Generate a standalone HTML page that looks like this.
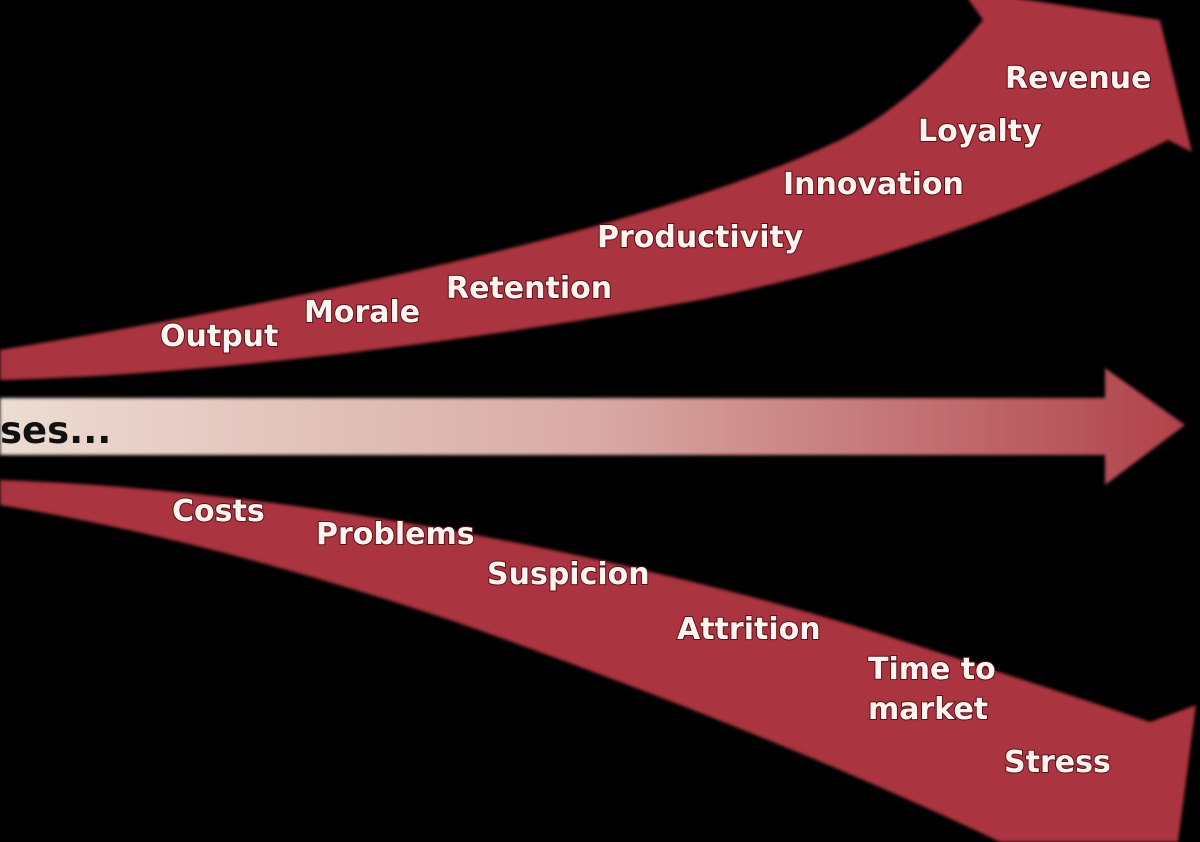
<!DOCTYPE html>
<html><head><meta charset="utf-8"><style>
html,body{margin:0;padding:0;background:#000;}
svg{display:block}
.t{font-family:"DejaVu Sans","Liberation Sans",sans-serif;font-weight:bold;font-size:30px;fill:#fff4f0;stroke:#5a1018;stroke-width:2;paint-order:stroke;}
</style></head><body>
<svg width="1200" height="842" viewBox="0 0 1200 842" xmlns="http://www.w3.org/2000/svg">
<defs>
<linearGradient id="g" x1="0" x2="1" y1="0" y2="0">
<stop offset="0" stop-color="#ecdcd2"/>
<stop offset="0.5" stop-color="#d9aaa6"/>
<stop offset="1" stop-color="#b0424a"/>
</linearGradient>
<filter id="b"><feGaussianBlur stdDeviation="1.5"/></filter>
</defs>
<rect width="1200" height="842" fill="#000"/>
<g filter="url(#b)">
<path d="M0,350 C300,300 650,230 840,140 C900,110 950,60 983,20 L962,-10 L1160,20 L1192,152 L1168,140 C1050,200 900,260 700,300 C450,345 200,375 0,380 Z" fill="#aa3440"/>
<path d="M0,398 L1105,398 L1105,368 L1185,425 L1105,485 L1105,455 L0,455 Z" fill="url(#g)"/>
<path d="M0,480 C300,490 650,560 900,640 C1000,672 1100,705 1150,722 L1196,705 L1178,842 L1000,842 C850,770 650,690 450,620 C300,570 150,530 0,505 Z" fill="#aa3440"/>
</g>
<text x="0" y="443" font-family="DejaVu Sans,Liberation Sans,sans-serif" font-weight="bold" font-size="37" fill="#111">ses...</text>
<text class="t" x="1005" y="88">Revenue</text>
<text class="t" x="918" y="141">Loyalty</text>
<text class="t" x="783" y="194">Innovation</text>
<text class="t" x="597" y="247">Productivity</text>
<text class="t" x="446" y="298">Retention</text>
<text class="t" x="304" y="322">Morale</text>
<text class="t" x="160" y="346">Output</text>
<text class="t" x="172" y="521">Costs</text>
<text class="t" x="316" y="544">Problems</text>
<text class="t" x="487" y="584">Suspicion</text>
<text class="t" x="677" y="639">Attrition</text>
<text class="t" x="868" y="679">Time to</text>
<text class="t" x="868" y="719">market</text>
<text class="t" x="1004" y="772">Stress</text>
</svg>
</body></html>
